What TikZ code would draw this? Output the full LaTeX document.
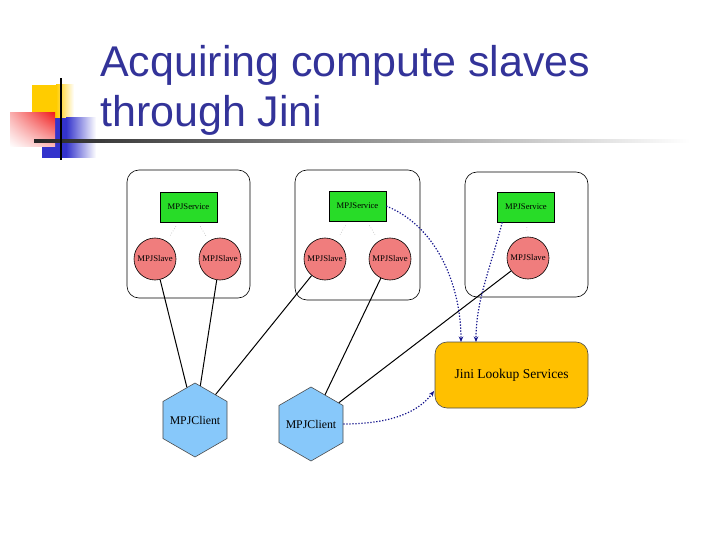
\documentclass[tikz,border=0pt]{standalone}
\usepackage{fontspec}
\setmainfont{Liberation Serif}
\newfontfamily\titlefont{Liberation Sans}
\usetikzlibrary{shapes.geometric,arrows.meta,shadings}
\newcommand{\fixlabel}[1]{\makebox[0pt]{#1}}
\definecolor{titleblue}{RGB}{51,51,153}
\definecolor{decoyellow}{RGB}{255,204,0}
\definecolor{decored}{RGB}{240,30,30}
\definecolor{decoblue}{RGB}{51,51,204}
\definecolor{srvgreen}{RGB}{40,220,40}
\definecolor{slavered}{RGB}{240,125,125}
\definecolor{clientblue}{RGB}{135,200,250}
\definecolor{jiniorange}{RGB}{255,192,0}
\definecolor{navy}{RGB}{20,20,140}
\tikzset{
  hostbox/.style={draw=black, line width=0.6pt, rounded corners=12pt},
  service/.style={draw=black, line width=0.6pt, fill=srvgreen, minimum width=57pt, minimum height=30pt, inner sep=0pt, font=\fontsize{8.6}{8.6}\selectfont},
  slave/.style={circle, draw=black, line width=0.6pt, fill=slavered, minimum size=42pt, inner sep=0pt, font=\fontsize{8.7}{8.7}\selectfont},
  client/.style={regular polygon, regular polygon sides=6, shape border rotate=90, draw=black!70, line width=0.6pt, fill=clientblue, minimum size=74pt, inner sep=0pt, font=\fontsize{11.8}{11.8}\selectfont},
  jini/.style={draw=black!70, line width=0.6pt, fill=jiniorange, rounded corners=12pt, minimum width=153pt, minimum height=66pt, inner sep=0pt, font=\fontsize{13.5}{13.5}\selectfont},
  link/.style={draw=black, line width=1pt},
  faintlink/.style={draw=black!45, line width=0.5pt, dotted, shorten <=5pt, shorten >=6pt},
  lookup/.style={draw=navy, line width=1.2pt, dash pattern=on 1.3pt off 1.7pt, -{Stealth[length=5.5pt,width=4.5pt]}},
  titletext/.style={anchor=base west, inner sep=0pt, text=titleblue, font=\titlefont\fontsize{43}{43}\selectfont}
}
\begin{document}
\begin{tikzpicture}[x=1pt,y=-1pt]
\useasboundingbox (0,0) rectangle (720,540);
% decoration
\fill[decoyellow] (32,85) rectangle (56,118);
\shade[left color=decoyellow, right color=white] (56,85) rectangle (74,118);
\fill[decoblue] (42,118) rectangle (66,158);
\shade[left color=decoblue, right color=white] (66,118) rectangle (96,158);
\shade[upper left=decored!35, upper right=decored, lower left=white, lower right=decored!30] (10,113) rectangle (55,147);
\shade[left color=black!85, right color=white] (34,140) rectangle (690,142.2);
\fill[black] (60.2,78) rectangle (62.2,160);
% title
\node[titletext] (t1) at (100,77) {Acquiring compute slaves};
\node[titletext] (t2) at (100,127) {through Jini};
% host boxes
\draw[hostbox] (127,170) rectangle (250,298);
\draw[hostbox] (295,170) rectangle (420,300);
\draw[hostbox] (465,172) rectangle (588,297);
% services
\node[service] (srv1) at (188.5,207) {\fixlabel{MPJService}};
\node[service] (srv2) at (357.5,206) {\fixlabel{MPJService}};
\node[service] (srv3) at (526,207) {\fixlabel{MPJService}};
% slaves
\node[slave] (sl1) at (155,259) {\fixlabel{MPJSlave}};
\node[slave] (sl2) at (220,259) {\fixlabel{MPJSlave}};
\node[slave] (sl3) at (325,259) {\fixlabel{MPJSlave}};
\node[slave] (sl4) at (390,259) {\fixlabel{MPJSlave}};
\node[slave] (sl5) at (528,258) {\fixlabel{MPJSlave}};
% clients and lookup
\node[client] (c1) at (195,420) {\fixlabel{MPJClient}};
\node[client] (c2) at (311,424) {\fixlabel{MPJClient}};
\node[jini] (jini) at (511.5,375) {Jini Lookup Services};
% service-slave links
\draw[faintlink] (srv1) -- (sl1);
\draw[faintlink] (srv1) -- (sl2);
\draw[faintlink] (srv2) -- (sl3);
\draw[faintlink] (srv2) -- (sl4);
\draw[faintlink] (srv3) -- (sl5);
% slave-client links
\draw[link] (sl1) -- (c1);
\draw[link] (sl2) -- (c1);
\draw[link] (sl3) -- (c1);
\draw[link] (sl4) -- (c2);
\draw[link] (sl5) -- (c2);
% lookup arrows
\coordinate (ja) at (461,342);
\coordinate (jb) at (476,342);
\coordinate (jc) at (434,391);
\draw[lookup] (srv2.east) .. controls (440,228) and (461,290) .. (ja);
\draw[lookup] (srv3.south west) ++(5,0) .. controls (490,270) and (476,300) .. (jb);
\draw[lookup] (c2.east) .. controls (395,424) and (420,410) .. (jc);
\end{tikzpicture}
\end{document}
